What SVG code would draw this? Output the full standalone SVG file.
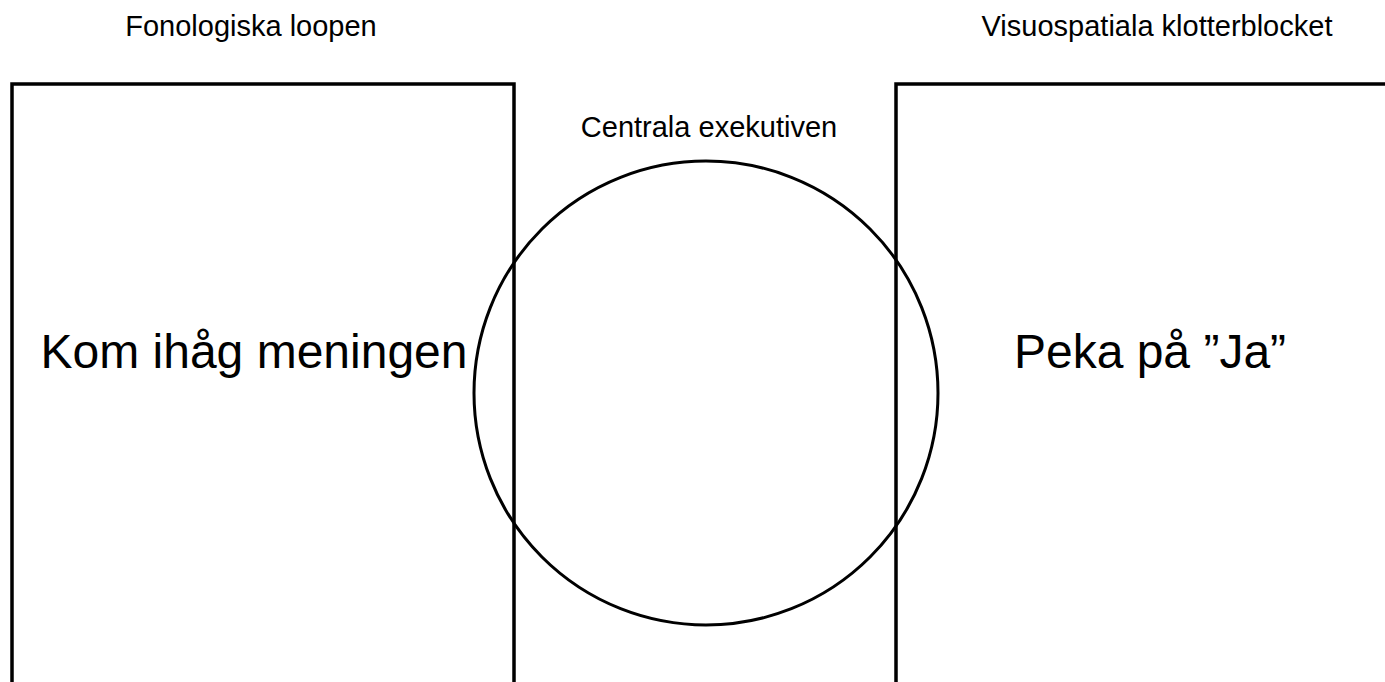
<svg xmlns="http://www.w3.org/2000/svg" width="1385" height="682" viewBox="0 0 1385 682">
<style>
.box{fill:none;stroke:#000;stroke-width:3.5}
.circ{fill:none;stroke:#000;stroke-width:3}
.sm{font-family:"Liberation Sans",Arial,sans-serif;font-size:29px;fill:#000;text-anchor:middle}
.lg{font-family:"Liberation Sans",Arial,sans-serif;font-size:48px;fill:#000;text-anchor:middle}
</style>
<rect width="1385" height="682" fill="#fff"/>
<g id="fonologiska">
<path class="box" d="M12,684 V84 H514 V684"/>
<text class="sm" x="251" y="36">Fonologiska loopen</text>
<text class="lg" x="254" y="368">Kom ihåg meningen</text>
</g>
<g id="visuospatiala">
<path class="box" d="M896,684 V84 H1387"/>
<text class="sm" x="1157" y="36">Visuospatiala klotterblocket</text>
<text class="lg" x="1150" y="368">Peka på ”Ja”</text>
</g>
<g id="centrala">
<circle class="circ" cx="706" cy="393" r="232"/>
<text class="sm" x="709" y="137">Centrala exekutiven</text>
</g>
<g id="connectors"></g>
</svg>
